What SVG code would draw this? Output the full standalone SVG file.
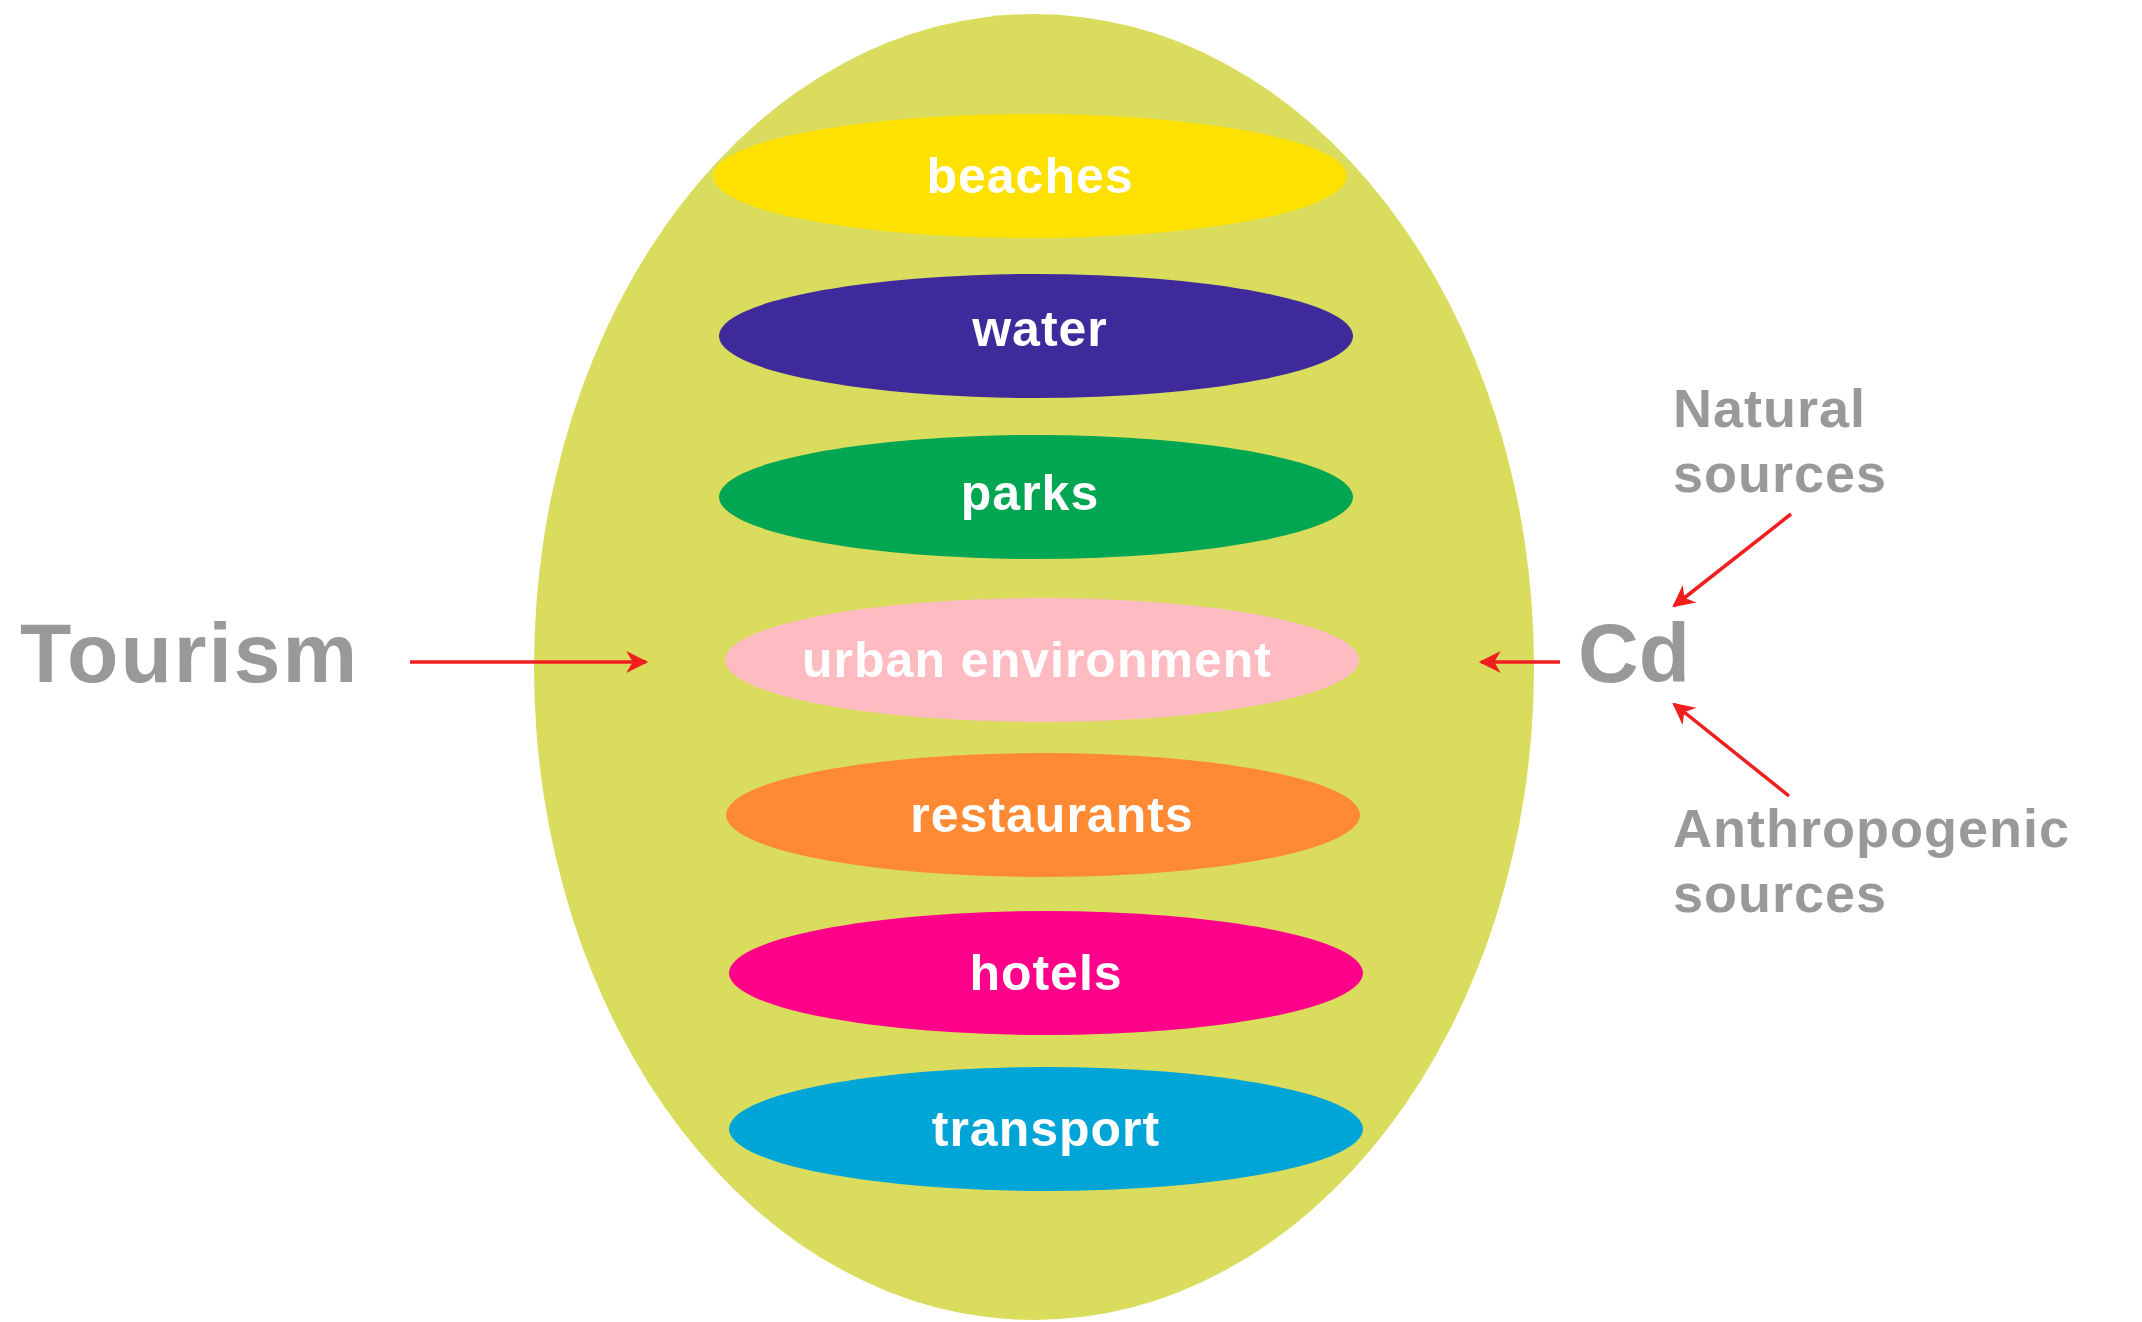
<svg xmlns="http://www.w3.org/2000/svg" width="2142" height="1322" viewBox="0 0 2142 1322">
<style>
.l{font-family:"Liberation Sans",Arial,sans-serif;font-weight:bold;fill:#fff;font-size:50px;text-anchor:middle;letter-spacing:1px}
.g{font-family:"Liberation Sans",Arial,sans-serif;font-weight:bold;fill:#999;}
.a{stroke:#f01e1e;stroke-width:3.5;fill:none;marker-end:url(#ah)}
</style>
<defs><marker id="ah" markerWidth="10" markerHeight="10" refX="9" refY="5" orient="auto" markerUnits="userSpaceOnUse" viewBox="0 0 10 10"><path d="M0,0L10,5L0,10L3,5Z" fill="#f01e1e" transform="scale(1)"/></marker>
<marker id="ah2" viewBox="0 0 10 10" refX="9" refY="5" markerWidth="26" markerHeight="22" orient="auto" markerUnits="userSpaceOnUse"><path d="M0,0L10,5L0,10L3,5Z" fill="#f01e1e"/></marker></defs>
<rect width="2142" height="1322" fill="#fff"/>
<g id="outer"><ellipse cx="1034" cy="667" rx="500" ry="653" fill="#D9DC5C"/></g>
<g id="beaches"><ellipse cx="1030" cy="176" rx="317" ry="62" fill="#FFE100"/><text class="l" x="1030" y="193">beaches</text></g>
<g id="water"><ellipse cx="1036" cy="336" rx="317" ry="62" fill="#3F2A9C"/><text class="l" x="1040" y="346">water</text></g>
<g id="parks"><ellipse cx="1036" cy="497" rx="317" ry="62" fill="#00A651"/><text class="l" x="1030" y="510">parks</text></g>
<g id="urban"><ellipse cx="1042" cy="660" rx="317" ry="62" fill="#FFBBC2"/><text class="l" x="1037" y="677">urban environment</text></g>
<g id="restaurants"><ellipse cx="1043" cy="815" rx="317" ry="62" fill="#FF8A33"/><text class="l" x="1052" y="832">restaurants</text></g>
<g id="hotels"><ellipse cx="1046" cy="973" rx="317" ry="62" fill="#FF008A"/><text class="l" x="1046" y="990">hotels</text></g>
<g id="transport"><ellipse cx="1046" cy="1129" rx="317" ry="62" fill="#00A5D8"/><text class="l" x="1046" y="1146">transport</text></g>
<g id="tourism"><text class="g" x="20" y="682" font-size="84" letter-spacing="2">Tourism</text></g>
<g id="cd"><text class="g" x="1578" y="682" font-size="84">Cd</text></g>
<g id="natural"><text class="g" x="1673" y="427" font-size="54" letter-spacing="1">Natural</text><text class="g" x="1673" y="492" font-size="54" letter-spacing="1">sources</text></g>
<g id="anthro"><text class="g" x="1673" y="847" font-size="54" letter-spacing="1">Anthropogenic</text><text class="g" x="1673" y="912" font-size="54" letter-spacing="1">sources</text></g>
<g id="connectors">
<line class="a" style="marker-end:url(#ah2)" x1="410" y1="662" x2="646" y2="662"/>
<line class="a" style="marker-end:url(#ah2)" x1="1560" y1="662" x2="1481" y2="662"/>
<line class="a" style="marker-end:url(#ah2)" x1="1791" y1="514" x2="1674" y2="606"/>
<line class="a" style="marker-end:url(#ah2)" x1="1789" y1="796" x2="1674" y2="704"/>
</g>
</svg>
